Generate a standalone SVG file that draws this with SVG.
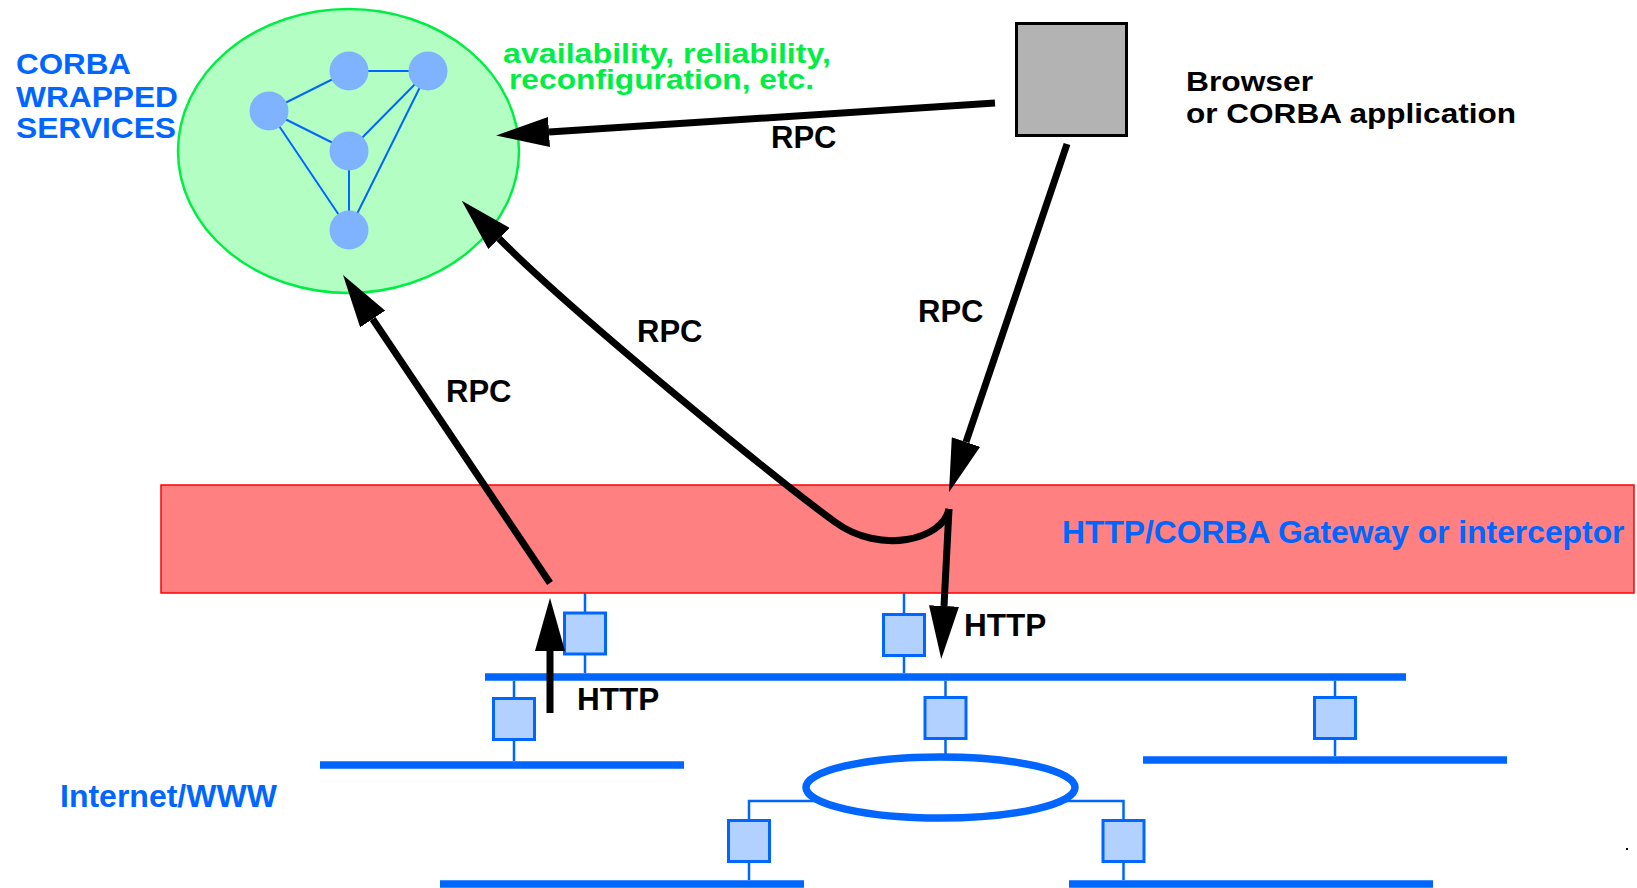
<svg xmlns="http://www.w3.org/2000/svg" width="1637" height="888" viewBox="0 0 1637 888">
<style>
.bl{fill:#0066ff;font-family:"Liberation Sans",Arial,sans-serif;font-weight:bold}
.bk{fill:#000;font-family:"Liberation Sans",Arial,sans-serif;font-weight:bold}
.gr{fill:#00ee44;font-family:"Liberation Sans",Arial,sans-serif;font-weight:bold}
.svc{fill:#80b3ff}
.edge{stroke:#0066ff;stroke-width:2;fill:none}
.bus{stroke:#0066ff;stroke-width:7.5;fill:none}
.tap{stroke:#0066ff;stroke-width:2.5;fill:none}
.nic{fill:#b3d1ff;stroke:#0066ff;stroke-width:3}
.arr{stroke:#000;stroke-width:7;fill:none;marker-end:url(#ah)}
</style>
<defs>
<marker id="ah" markerUnits="userSpaceOnUse" viewBox="0 0 53 30" refX="0" refY="15" markerWidth="53" markerHeight="30" orient="auto">
<path d="M0,0 L53,15 L0,30 z" fill="#000"/>
</marker>
<rect id="box" x="-20.5" y="-20.5" width="41" height="41" class="nic"/>
</defs>

<g id="services">
<ellipse cx="348.5" cy="151" rx="170.5" ry="142" fill="#b3ffc3" stroke="#00ee44" stroke-width="2.5"/>
<g class="edge">
<line x1="269" y1="111" x2="349" y2="71"/>
<line x1="349" y1="71" x2="428" y2="71"/>
<line x1="428" y1="71" x2="349" y2="151"/>
<line x1="269" y1="111" x2="349" y2="151"/>
<line x1="269" y1="111" x2="349" y2="230"/>
<line x1="349" y1="151" x2="349" y2="230"/>
<line x1="428" y1="71" x2="349" y2="230"/>
</g>
<circle class="svc" cx="349" cy="71" r="19.5"/>
<circle class="svc" cx="428" cy="71" r="19.5"/>
<circle class="svc" cx="269" cy="111" r="19.5"/>
<circle class="svc" cx="349" cy="151" r="19.5"/>
<circle class="svc" cx="349" cy="230" r="19.5"/>
<text class="bl" font-size="29.5" x="16" y="74" textLength="115" lengthAdjust="spacingAndGlyphs">CORBA</text>
<text class="bl" font-size="29.5" x="16" y="107" textLength="162" lengthAdjust="spacingAndGlyphs">WRAPPED</text>
<text class="bl" font-size="29.5" x="16" y="138" textLength="160" lengthAdjust="spacingAndGlyphs">SERVICES</text>
<text class="gr" font-size="28" x="503" y="63" textLength="328" lengthAdjust="spacingAndGlyphs">availability, reliability,</text>
<text class="gr" font-size="28" x="509" y="89" textLength="305" lengthAdjust="spacingAndGlyphs">reconfiguration, etc.</text>
</g>

<g id="browser">
<rect x="1016.5" y="23.5" width="110" height="112" fill="#b3b3b3" stroke="#000" stroke-width="3"/>
<text class="bk" font-size="28" x="1186" y="91" textLength="127" lengthAdjust="spacingAndGlyphs">Browser</text>
<text class="bk" font-size="28" x="1186" y="123" textLength="330" lengthAdjust="spacingAndGlyphs">or CORBA application</text>
</g>

<g id="gateway">
<rect x="161" y="485" width="1473" height="108" fill="#ff8080" stroke="#ff0000" stroke-width="1.5"/>
<text class="bl" font-size="31.8" x="1062" y="543">HTTP/CORBA Gateway or interceptor</text>
</g>

<g id="internet">
<g class="bus">
<line x1="485" y1="677" x2="1406" y2="677"/>
<line x1="320" y1="765" x2="684" y2="765"/>
<line x1="1143" y1="760" x2="1507" y2="760"/>
<line x1="440" y1="884" x2="804" y2="884"/>
<line x1="1069" y1="884" x2="1433" y2="884"/>
<ellipse cx="940.5" cy="787.5" rx="134.5" ry="30.5"/>
</g>
<g class="tap">
<path d="M585,593 V613 M585,654 V673"/>
<path d="M514,681 V698 M514,740 V761"/>
<path d="M904,593 V614 M904,656 V673"/>
<path d="M945.5,681 V697 M945.5,739 V755"/>
<path d="M815,801 H749 V820 M749,862 V880"/>
<path d="M1066,801 H1123.5 V820 M1123.5,862 V880"/>
<path d="M1335,681 V697 M1335,739 V756"/>
</g>
<text class="bl" font-size="32" x="60" y="807">Internet/WWW</text>
</g>
<g id="nic1"><use href="#box" x="585" y="633.5"/></g>
<g id="nic2"><use href="#box" x="514" y="719"/></g>
<g id="nic3"><use href="#box" x="904" y="635"/></g>
<g id="nic4"><use href="#box" x="945.5" y="718"/></g>
<g id="nic5"><use href="#box" x="749" y="841"/></g>
<g id="nic6"><use href="#box" x="1123.5" y="841"/></g>
<g id="nic7"><use href="#box" x="1335" y="718"/></g>

<g id="connectors">
<path class="arr" d="M995,103 L549,132"/>
<path class="arr" d="M1067,144 L966,442"/>
<path class="arr" d="M949,509 C943,540 880,555 835,522 C776,479 573,313.5 499,238.5"/>
<path class="arr" d="M949,509 L944,606"/>
<path class="arr" d="M550,583 L372.6,319"/>
<path class="arr" d="M550,713 L550,651"/>
<text class="bk" font-size="31" x="771" y="148">RPC</text>
<text class="bk" font-size="31" x="637" y="342">RPC</text>
<text class="bk" font-size="31" x="918" y="322">RPC</text>
<text class="bk" font-size="31" x="446" y="402">RPC</text>
<text class="bk" font-size="31.5" x="577" y="710">HTTP</text>
<text class="bk" font-size="31.5" x="964" y="636">HTTP</text>
</g>
<rect x="1626" y="848" width="2" height="2" fill="#000"/>
</svg>
